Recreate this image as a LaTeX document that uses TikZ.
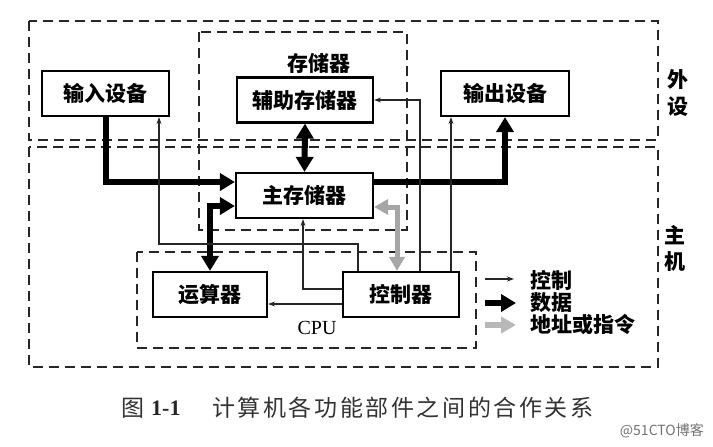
\documentclass[tikz,border=0pt]{standalone}
\usepackage{fontspec}
\usepackage{graphicx}
\usetikzlibrary{arrows.meta}
\newfontfamily\cjk{Noto Sans CJK SC}
\newfontfamily\tnr{Liberation Serif}
\begin{document}
\begin{tikzpicture}[x=1pt,y=-1pt,
  unitbox/.style={draw, line width=2.2pt, minimum height=45pt, inner sep=0pt,
    font=\cjk\bfseries\fontsize{21}{24}\selectfont},
  region/.style={draw=black!85, line width=1.9pt, dash pattern=on 10pt off 6pt},
  lbl/.style={font=\cjk\bfseries\fontsize{21}{24}\selectfont, inner sep=0pt},
  data/.style={line width=6pt, -{Triangle[length=15pt,width=17pt]}},
  data2/.style={line width=6pt, {Triangle[length=15pt,width=17pt]}-{Triangle[length=15pt,width=17pt]}},
  addr2/.style={draw=black!35, line width=5pt, {Triangle[length=14pt,width=15pt]}-{Triangle[length=14pt,width=15pt]}},
  addr/.style={draw=black!28, line width=5.5pt, -{Triangle[length=15pt,width=16pt]}},
  ctl/.style={draw=black!85, line width=1.1pt, -{Stealth[length=7pt,width=5pt]}}
]
\useasboundingbox[fill=white] (0,0) rectangle (713,447);

% dashed regions
\draw[region] (29,21) rectangle (658,140);
\draw[region] (29,147) rectangle (658,367);
\draw[region] (199,32) rectangle (407,230);
\draw[region] (137,252) rectangle (476,348);

% units
\node[unitbox, minimum width=127pt] (in)   at (105.5,93.5) {输入设备};
\node[unitbox, minimum width=136pt] (aux)  at (305,100)    {辅助存储器};
\node[unitbox, minimum width=128pt] (out)  at (505,93.5)   {输出设备};
\node[unitbox, minimum width=137pt] (main) at (304.5,195.5){主存储器};
\node[unitbox, minimum width=114pt] (alu)  at (210,294.5)  {运算器};
\node[unitbox, minimum width=116pt] (ctrl) at (401,294.5)  {控制器};

% labels
\node[lbl] (memlbl) at (319,63) {存储器};
\node[font=\tnr\fontsize{20}{24}\selectfont, inner sep=0pt] (cpulbl) at (317,328) {CPU};
\node[lbl] (w1) at (678,80) {外};
\node[lbl] (w2) at (678,107) {设};
\node[lbl] (z1) at (675,235) {主};
\node[lbl] (z2) at (675,262) {机};

% data connectors
\draw[data] (in.south) |- (main.west |- 0,182);
\draw[data] (main.east |- 0,182) -| (out.south);
\draw[data2] (aux.south) -- (main.north);
\draw[data2] (alu.north) |- (main.west |- 0,206);

% address / instruction
\draw[addr2] ([xshift=-4pt]ctrl.north) |- (main.east |- 0,207);

% control lines
\draw[ctl] (ctrl.north -| 358,0) |- (159,244) -- (in.south -| 159,0);
\draw[ctl] (ctrl.west |- 0,289) -| (main.south -| 303,0);
\draw[ctl] (ctrl.west |- 0,304) -- (alu.east |- 0,304);
\draw[ctl] (ctrl.north -| 420,0) |- (aux.east |- 0,100);
\draw[ctl] (ctrl.north -| 451,0) -- (out.south -| 451,0);

% legend
\coordinate (l1a) at (485,279); \coordinate (l1b) at (514,279);
\coordinate (l2a) at (485,303); \coordinate (l2b) at (516,303);
\coordinate (l3a) at (485,325); \coordinate (l3b) at (516,325);
\draw[ctl] (l1a) -- (l1b);
\draw[data] (l2a) -- (l2b);
\draw[addr] (l3a) -- (l3b);
\node[lbl, anchor=west] (t1) at (530,280) {控制};
\node[lbl, anchor=west] (t2) at (530,303) {数据};
\node[lbl, anchor=west] (t3) at (530,325) {地址或指令};

% caption
\node[anchor=west, inner sep=0pt, font=\cjk\fontsize{23}{26}\selectfont, text=black!80] (cap1) at (121,408) {图};
\node[anchor=west, inner sep=0pt, font=\tnr\bfseries\fontsize{22}{26}\selectfont, text=black!85] (cap2) at (151,408) {1-1};
\node[anchor=west, inner sep=0pt, font=\cjk\fontsize{23}{26}\selectfont, text=black!80] (cap3) at (212,408)
  {计\kern2.6pt算\kern2.6pt机\kern2.6pt各\kern2.6pt功\kern2.6pt能\kern2.6pt部\kern2.6pt件\kern2.6pt之\kern2.6pt间\kern2.6pt的\kern2.6pt合\kern2.6pt作\kern2.6pt关\kern2.6pt系};
\node[anchor=east, inner sep=0pt, font=\cjk\fontsize{14}{16}\selectfont, text=black!55] (wm) at (704,431) {@51CTO博客};
\end{tikzpicture}
\end{document}
